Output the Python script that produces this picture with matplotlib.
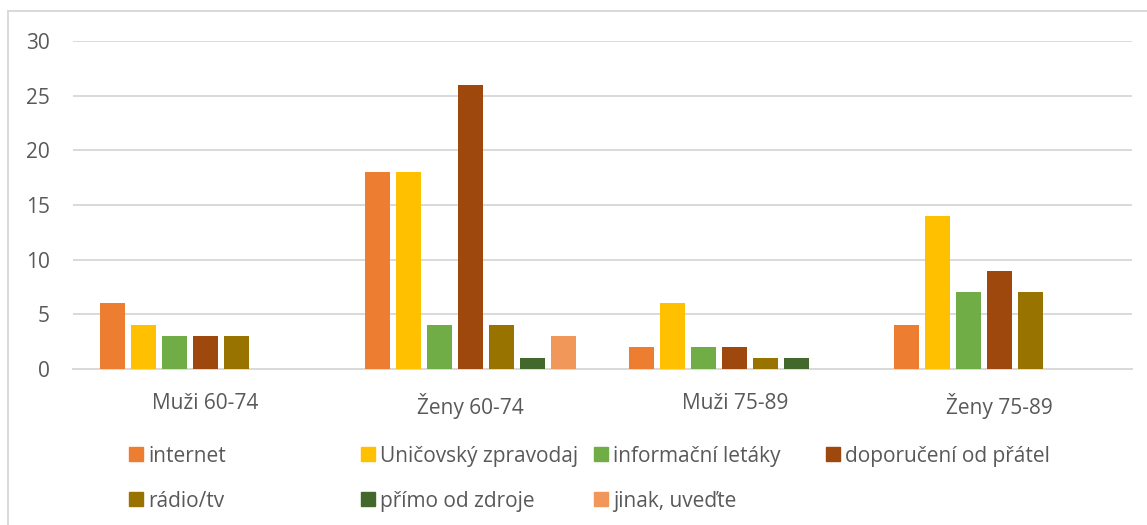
import matplotlib
matplotlib.use("Agg")
import matplotlib.pyplot as plt
from matplotlib.patches import Rectangle
import numpy as np

plt.rcParams['font.family'] = ['Open Sans', 'DejaVu Sans']

categories = ["Muži 60-74", "Ženy 60-74", "Muži 75-89", "Ženy 75-89"]
series_names = ["internet", "Uničovský zpravodaj", "informační letáky",
                "doporučení od přátel", "rádio/tv", "přímo od zdroje", "jinak, uveďte"]
internet = [6, 18, 2, 4]
zpravodaj = [4, 18, 6, 14]
letaky = [3, 4, 2, 7]
doporuceni = [3, 26, 2, 9]
radio_tv = [3, 4, 1, 7]
primo = [0, 1, 1, 0]
jinak = [0, 3, 0, 0]
series_values = [internet, zpravodaj, letaky, doporuceni, radio_tv, primo, jinak]
colors = ["#ED7D31", "#FFC000", "#70AD47", "#9E480E", "#997300", "#43682B", "#F1975A"]
yticks = [0, 5, 10, 15, 20, 25, 30]

W, H = 1147, 525
fig = plt.figure(figsize=(W / 100, H / 100), dpi=100)
ax = fig.add_axes([73 / W, 1 - 369 / H, (1132 - 73) / W, (369 - 41) / H])

text_color = "#595959"
grid_color = "#D9D9D9"
fs = 15
step = 31 / 264.75
width = 25 / 264.75
x = np.arange(len(categories))
for i, (vals, c) in enumerate(zip(series_values, colors)):
    v = np.array(vals, dtype=float)
    mask = v > 0
    ax.bar(x[mask] + (i - 3) * step, v[mask], width=width, color=c, zorder=3)

ax.set_xlim(-0.5, len(categories) - 0.5)
ax.set_ylim(0, 30)
ax.set_yticks(yticks)
ax.set_yticklabels([str(t) for t in yticks])
ax.set_xticks(x)
ax.set_xticklabels(categories)
ax.yaxis.grid(True, color=grid_color, linewidth=1.4, zorder=0)
ax.set_axisbelow(True)
for s in ["top", "right", "left"]:
    ax.spines[s].set_visible(False)
ax.spines["bottom"].set_color(grid_color)
ax.spines["bottom"].set_linewidth(1.4)
ax.tick_params(axis="y", length=0, pad=16.5, labelsize=fs, labelcolor=text_color)
ax.tick_params(axis="x", length=0, pad=17, labelsize=fs, labelcolor=text_color)

# legend (manual, Excel-like equal column widths)
col_x = [129, 361, 594, 826]
row_y = [454, 499]
msz = 14
for k, (name, c) in enumerate(zip(series_names, colors)):
    r, col = divmod(k, 4)
    mx, my = col_x[col], row_y[r]
    fig.patches.append(Rectangle((mx / W, 1 - (my + msz / 2) / H), msz / W, msz / H,
                                 transform=fig.transFigure, color=c, figure=fig))
    fig.text((mx + msz + 5) / W, 1 - my / H, name, color=text_color, fontsize=fs,
             va="center_baseline", ha="left")

# outer chart border
fig.patches.append(Rectangle((8 / W, -0.1), 1.2, 1 - 11 / H + 0.1, transform=fig.transFigure,
                             fill=False, edgecolor=grid_color, linewidth=1.4, figure=fig))

fig.savefig("out.png", dpi=100)
